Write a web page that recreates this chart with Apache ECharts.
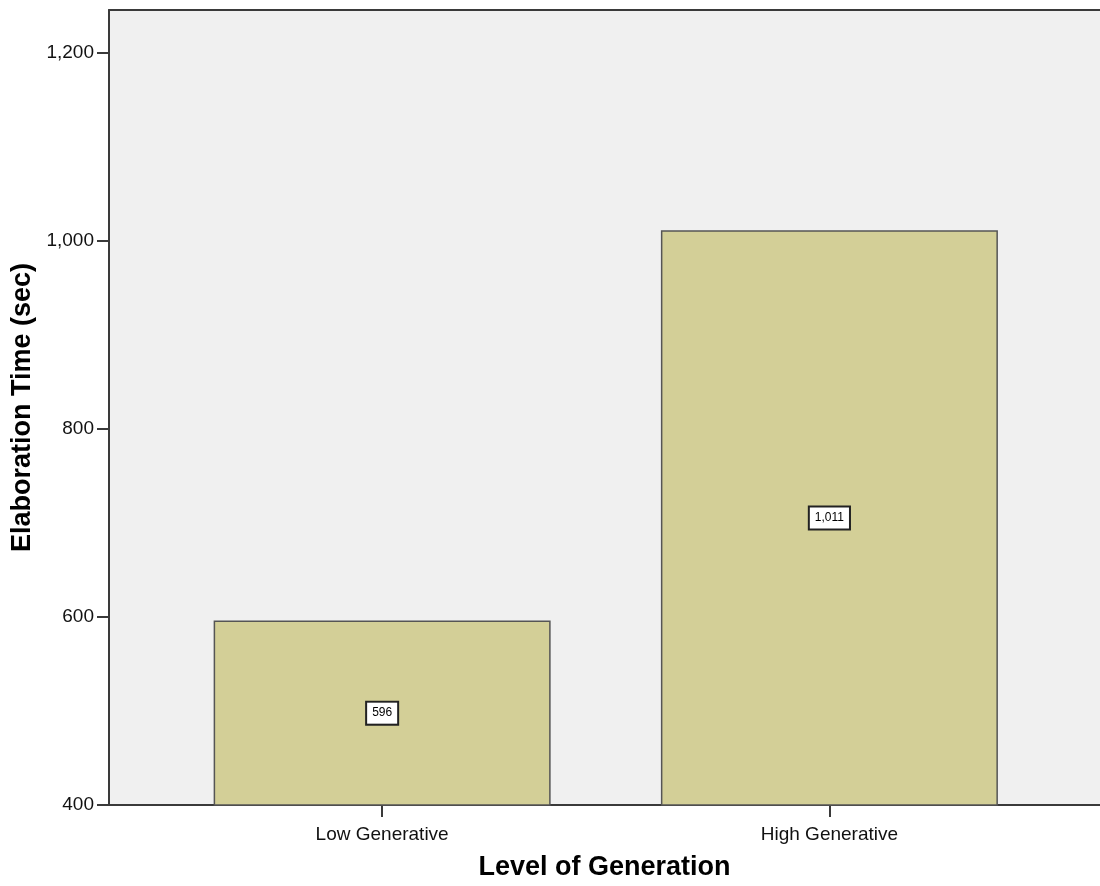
<!DOCTYPE html>
<html>
<head>
<meta charset="utf-8">
<script src="https://cdn.jsdelivr.net/npm/echarts@6/dist/echarts.min.js"></script>
<style>
html,body{margin:0;padding:0;background:#fff;overflow:hidden;}
#chart{width:1100px;height:886px;}
</style>
</head>
<body>
<div id="chart"></div>
<script>
const categories = ['Low Generative', 'High Generative'];
const meanTimes = [596, 1011];
const yTicks = [400, 600, 800, 1000, 1200];
const categoryIndex = [0, 1];

const FONT = "'Liberation Sans', Arial, sans-serif";
const AXIS_COLOR = '#3a3a3a';
const chart = echarts.init(document.getElementById('chart'));

chart.setOption({
  animation: false,
  backgroundColor: '#ffffff',
  grid: {
    left: 109, top: 10, right: -5, bottom: 77,
    show: true, backgroundColor: '#f0f0f0',
    borderWidth: 0
  },
  xAxis: [{
    type: 'value',
    min: -0.6107, max: 1.605,
    name: 'Level of Generation',
    nameLocation: 'middle',
    nameGap: 49,
    nameTextStyle: { fontFamily: FONT, fontSize: 27, fontWeight: 'bold', color: '#000' },
    axisLine: { show: true, onZero: false, lineStyle: { color: AXIS_COLOR, width: 2 } },
    axisTick: { show: true, length: 12, lineStyle: { color: AXIS_COLOR, width: 2 }, customValues: categoryIndex },
    axisLabel: {
      customValues: categoryIndex,
      margin: 20,
      fontFamily: FONT, fontSize: 19, color: '#111',
      formatter: v => categories[Math.round(v)] || ''
    },
    splitLine: { show: false }
  }, {
    type: 'value',
    position: 'top',
    min: -0.6107, max: 1.605,
    axisLine: { show: true, onZero: false, lineStyle: { color: AXIS_COLOR, width: 2 } },
    axisTick: { show: false },
    axisLabel: { show: false },
    splitLine: { show: false }
  }],
  yAxis: {
    type: 'value',
    min: 400, max: 1245,
    name: 'Elaboration Time (sec)',
    nameLocation: 'middle',
    nameGap: 68,
    nameTextStyle: { fontFamily: FONT, fontSize: 27, fontWeight: 'bold', color: '#000' },
    axisLine: { show: true, onZero: false, lineStyle: { color: AXIS_COLOR, width: 2 } },
    axisTick: { show: true, length: 12, lineStyle: { color: AXIS_COLOR, width: 2 }, customValues: yTicks },
    axisLabel: {
      customValues: yTicks,
      margin: 15,
      fontFamily: FONT, fontSize: 19, color: '#111',
      formatter: v => Number(v).toLocaleString('en-US')
    },
    splitLine: { show: false }
  },
  series: [{
    type: 'bar',
    xAxisIndex: 0,
    barWidth: 337,
    data: meanTimes.map((v, i) => [i, v]),
    itemStyle: { color: '#d3cf97', borderColor: '#555', borderWidth: 1.5 },
    label: {
      show: true,
      position: 'inside',
      fontFamily: FONT, fontSize: 12, color: '#000',
      backgroundColor: '#ffffff',
      borderColor: '#222', borderWidth: 2,
      padding: [5, 5, 4, 5],
      formatter: p => Number(p.value[1]).toLocaleString('en-US')
    }
  }]
});
</script>
</body>
</html>
